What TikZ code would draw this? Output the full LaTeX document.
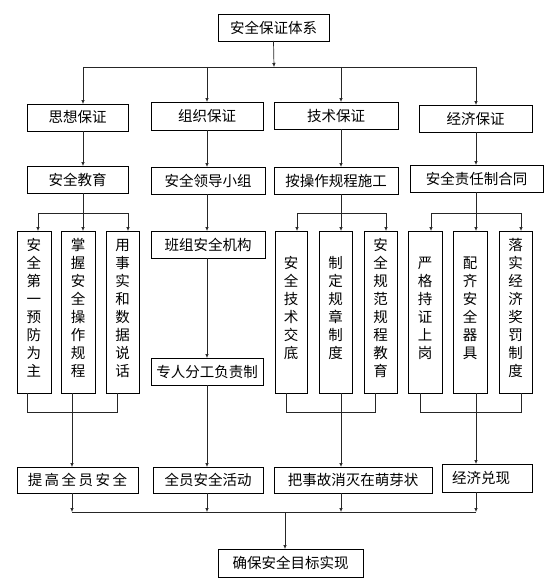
\documentclass[tikz,border=0pt]{standalone}
\usepackage{fontspec}
\newfontfamily\cjk{Noto Sans CJK SC}
\usetikzlibrary{arrows.meta}
\tikzset{
  bx/.style={draw=black, line width=0.8pt, inner sep=0pt, outer sep=0pt, font=\cjk\fontsize{14.5}{18}\selectfont, align=center},
  vtxt/.style={inner sep=0pt, font=\cjk\fontsize{14.5}{18}\selectfont, align=center},
  ln/.style={draw=black!85, line width=0.7pt},
  arr/.style={ln, -{Latex[length=4pt,width=3.6pt]}}
}
\begin{document}
\begin{tikzpicture}[x=1pt,y=-1pt]
\useasboundingbox (0,0) rectangle (553,586);
% top
\node[bx, minimum width=111, minimum height=27] (top) at (273.5,27.5) {安全保证体系};
% level 2
\node[bx, minimum width=101, minimum height=27] (s1) at (77.5,117.5) {思想保证};
\node[bx, minimum width=112, minimum height=28] (s2) at (207,116) {组织保证};
\node[bx, minimum width=124, minimum height=27] (s3) at (336,115.5) {技术保证};
\node[bx, minimum width=113, minimum height=27] (s4) at (475.5,118.5) {经济保证};
% level 3
\node[bx, minimum width=101, minimum height=27] (t1) at (77.5,179.5) {安全教育};
\node[bx, minimum width=114, minimum height=27] (t2) at (208,180.5) {安全领导小组};
\node[bx, minimum width=124, minimum height=27] (t3) at (336,180.5) {按操作规程施工};
\node[bx, minimum width=133, minimum height=27] (t4) at (476.5,178.5) {安全责任制合同};
% tall boxes
\node[bx, minimum width=34, minimum height=162] (v11) at (34,312) {};
\node[bx, minimum width=34, minimum height=162] (v12) at (78,312) {};
\node[bx, minimum width=33, minimum height=162] (v13) at (122.5,312) {};
\node[bx, minimum width=32, minimum height=162] (v31) at (291,312) {};
\node[bx, minimum width=33, minimum height=162] (v32) at (335.5,312) {};
\node[bx, minimum width=33, minimum height=162] (v33) at (380.5,312) {};
\node[bx, minimum width=34, minimum height=162] (v41) at (425,312) {};
\node[bx, minimum width=34, minimum height=162] (v42) at (470,312) {};
\node[bx, minimum width=33, minimum height=162] (v43) at (515.5,312) {};
\node[vtxt] (v11t) at (34,308) {安\\全\\第\\一\\预\\防\\为\\主};
\node[vtxt] (v12t) at (78,308) {掌\\握\\安\\全\\操\\作\\规\\程};
\node[vtxt] (v13t) at (122.5,308) {用\\事\\实\\和\\数\\据\\说\\话};
\node[vtxt] (v31t) at (291,308) {安\\全\\技\\术\\交\\底};
\node[vtxt] (v32t) at (335.5,308) {制\\定\\规\\章\\制\\度};
\node[vtxt] (v33t) at (380.5,308) {安\\全\\规\\范\\规\\程\\教\\育};
\node[vtxt] (v41t) at (425,308) {严\\格\\持\\证\\上\\岗};
\node[vtxt] (v42t) at (470,308) {配\\齐\\安\\全\\器\\具};
\node[vtxt] (v43t) at (515.5,308) {落\\实\\经\\济\\奖\\罚\\制\\度};
% column 2
\node[bx, minimum width=114, minimum height=27] (b1) at (208,244.5) {班组安全机构};
\node[bx, minimum width=112, minimum height=27] (b2) at (207,371.5) {专人分工负责制};
% bottom row
\node[bx, minimum width=121, minimum height=26] (r1) at (77.5,480) {提\kern2.5pt 高\kern2.5pt 全\kern2.5pt 员\kern2.5pt 安\kern2.5pt 全};
\node[bx, minimum width=110, minimum height=26] (r2) at (208,480) {全员安全活动};
\node[bx, minimum width=158, minimum height=26] (r3) at (353,480) {把事故消灭在萌芽状};
\node[bx, minimum height=28, inner xsep=10pt, text width=70pt, align=left] (r4) at (487,478) {经济兑现};
\node[bx, minimum width=145, minimum height=28] (fin) at (290.5,563) {确保安全目标实现};

% top connectors
\coordinate (hc) at (274,67);
\coordinate (h1) at (83,67);
\coordinate (h2) at (207,67);
\coordinate (h3) at (341,67);
\coordinate (h4) at (476,67);
\draw[arr] (top.south) -- (hc);
\draw[ln] (h1) -- (h4);
\draw[arr] (h1) -- (h1 |- s1.north);
\draw[arr] (h2) -- (h2 |- s2.north);
\draw[arr] (h3) -- (h3 |- s3.north);
\draw[arr] (h4) -- (h4 |- s4.north);
\draw[arr] (s1.south -| h1) -- (t1.north -| h1);
\draw[arr] (s2.south -| h2) -- (t2.north -| h2);
\draw[arr] (s3.south -| h3) -- (t3.north -| h3);
\draw[arr] (s4.south -| h4) -- (t4.north -| h4);

% splits
\coordinate (p1) at (83,213);
\coordinate (p1a) at (38,213);
\coordinate (p1c) at (128,213);
\draw[ln] (t1.south -| p1) -- (p1);
\draw[ln] (p1a) -- (p1c);
\draw[arr] (p1a) -- (p1a |- v11.north);
\draw[arr] (p1) -- (p1 |- v12.north);
\draw[arr] (p1c) -- (p1c |- v13.north);

\coordinate (p3) at (341,213);
\coordinate (p3a) at (297,213);
\coordinate (p3c) at (386,213);
\draw[ln] (t3.south -| p3) -- (p3);
\draw[ln] (p3a) -- (p3c);
\draw[arr] (p3a) -- (p3a |- v31.north);
\draw[arr] (p3) -- (p3 |- v32.north);
\draw[arr] (p3c) -- (p3c |- v33.north);

\coordinate (p4) at (476,213);
\coordinate (p4a) at (431,213);
\coordinate (p4c) at (521,213);
\draw[ln] (t4.south -| p4) -- (p4);
\draw[ln] (p4a) -- (p4c);
\draw[arr] (p4a) -- (p4a |- v41.north);
\draw[arr] (p4) -- (p4 |- v42.north);
\draw[arr] (p4c) -- (p4c |- v43.north);

% column 2
\draw[arr] (t2.south -| h2) -- (b1.north -| h2);
\draw[arr] (b1.south -| h2) -- (b2.north -| h2);
\draw[arr] (b2.south -| h2) -- (r2.north -| h2);

% merges
\coordinate (m1a) at (27,412);
\coordinate (m1) at (72,412);
\coordinate (m1c) at (117,412);
\draw[ln] (v11.south -| m1a) -- (m1a) -- (m1c) -- (v13.south -| m1c);
\draw[ln] (v12.south -| m1) -- (m1);
\draw[arr] (m1) -- (m1 |- r1.north);

\coordinate (m3a) at (286,412);
\coordinate (m3) at (341,412);
\coordinate (m3c) at (375,412);
\draw[ln] (v31.south -| m3a) -- (m3a) -- (m3c) -- (v33.south -| m3c);
\draw[ln] (v32.south -| m3) -- (m3);
\draw[arr] (m3) -- (m3 |- r3.north);

\coordinate (m4a) at (420,412);
\coordinate (m4) at (476,412);
\coordinate (m4c) at (521,412);
\draw[ln] (v41.south -| m4a) -- (m4a) -- (m4c) -- (v43.south -| m4c);
\draw[ln] (v42.south -| m4) -- (m4);
\draw[arr] (m4) -- (m4 |- r4.north);

% bottom merge
\coordinate (q1) at (72,512);
\coordinate (q2) at (207,512);
\coordinate (q3) at (341,512);
\coordinate (q4) at (476,512);
\coordinate (qc) at (285,512);
\draw[ln] (q1) -- (q4);
\draw[arr] (r1.south -| q1) -- (q1);
\draw[arr] (r2.south -| q2) -- (q2);
\draw[arr] (r3.south -| q3) -- (q3);
\draw[arr] (r4.south -| q4) -- (q4);
\draw[arr] (qc) -- (qc |- fin.north);
\end{tikzpicture}
\end{document}
